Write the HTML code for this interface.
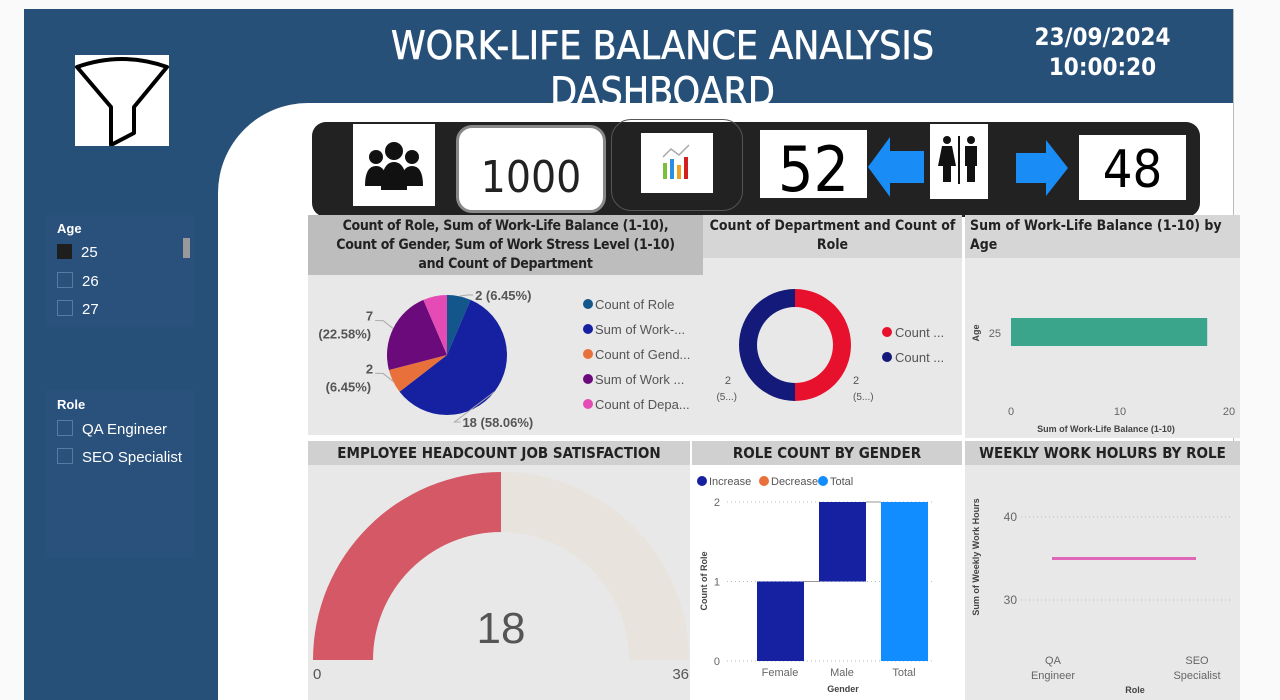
<!DOCTYPE html>
<html><head><meta charset="utf-8">
<style>
body{margin:0;width:1280px;height:700px;overflow:hidden;background:#fafafa;font-family:"Liberation Sans",sans-serif;position:relative}
.abs{position:absolute}
.t{font-family:"DejaVu Sans Condensed","Liberation Sans",sans-serif}
</style></head><body>
<div class="abs" style="left:24px;top:9px;width:1209px;height:691px;background:#275079"></div>
<div class="abs" style="left:218px;top:103px;width:1015px;height:597px;background:#fff;border-top-left-radius:90px"></div>
<div class="abs" style="left:1233px;top:9px;width:1px;height:691px;background:#bbb"></div>
<div class="abs t" style="left:340px;top:24px;width:645px;text-align:center;color:#fff;font-size:39px;font-weight:500;line-height:46px;height:79px;overflow:hidden;-webkit-text-stroke:0.6px #fff">WORK-LIFE BALANCE ANALYSIS DASHBOARD</div>
<div class="abs t" style="left:1010px;top:22px;width:185px;text-align:center;color:#fff;font-size:24px;font-weight:bold;line-height:30px">23/09/2024<br>10:00:20</div>
<div class="abs" style="left:75px;top:55px;width:94px;height:91px;background:#fff">
<svg width="94" height="91"><path d="M2 12 Q47 -4 92 12 L59 52 L59 78 L36 90 L36 52 Z" fill="none" stroke="#000" stroke-width="4" stroke-linejoin="round"/></svg></div>
<div class="abs" style="left:45px;top:215px;width:150px;height:112px;background:#2a517c"></div>
<div class="abs" style="left:57px;top:221px;color:#fff;font-size:13px;font-weight:bold">Age</div>
<div class="abs" style="left:183px;top:238px;width:7px;height:20px;background:#999"></div>
<div class="abs" style="left:57px;top:244px;color:#fff;font-size:15px"><span style="display:inline-block;width:15px;height:15px;background:#1e1e1e;vertical-align:-2px;margin-right:9px"></span>25</div>
<div class="abs" style="left:57px;top:272px;color:#fff;font-size:15px"><span style="display:inline-block;width:14px;height:14px;border:1px solid #5a7aa0;vertical-align:-2px;margin-right:9px"></span>26</div>
<div class="abs" style="left:57px;top:300px;color:#fff;font-size:15px"><span style="display:inline-block;width:14px;height:14px;border:1px solid #5a7aa0;vertical-align:-2px;margin-right:9px"></span>27</div>
<div class="abs" style="left:45px;top:390px;width:150px;height:168px;background:#2a517c"></div>
<div class="abs" style="left:57px;top:397px;color:#fff;font-size:13px;font-weight:bold">Role</div>
<div class="abs" style="left:57px;top:420px;color:#fff;font-size:15px"><span style="display:inline-block;width:14px;height:14px;border:1px solid #5a7aa0;vertical-align:-2px;margin-right:9px"></span>QA Engineer</div>
<div class="abs" style="left:57px;top:448px;color:#fff;font-size:15px"><span style="display:inline-block;width:14px;height:14px;border:1px solid #5a7aa0;vertical-align:-2px;margin-right:9px"></span>SEO Specialist</div>

<div class="abs" style="left:312px;top:122px;width:888px;height:95px;background:#222;border-radius:14px"></div>
<div class="abs" style="left:353px;top:124px;width:82px;height:82px;background:#fff">
<svg width="82" height="82"><g fill="#111"><circle cx="41" cy="27" r="9"/><circle cx="23" cy="33" r="7"/><circle cx="59" cy="33" r="7"/><path d="M12 62 Q12 42 23 42 Q34 42 34 62Z"/><path d="M48 62 Q48 42 59 42 Q70 42 70 62Z"/><path d="M28 66 Q28 38 41 38 Q54 38 54 66Z"/></g></svg></div>
<div class="abs t" style="left:456px;top:125px;width:144px;height:82px;background:#fff;border:3px solid #888;border-radius:16px;text-align:center;font-size:44px;line-height:100px;color:#222">1000</div>
<div class="abs" style="left:611px;top:119px;width:130px;height:90px;border:1px solid #555;border-radius:20px"></div>
<div class="abs" style="left:641px;top:133px;width:72px;height:60px;background:#fff">
<svg width="72" height="60"><rect x="22" y="30" width="4" height="16" fill="#7bbf3a"/><rect x="29" y="26" width="4" height="20" fill="#2a8fe0"/><rect x="36" y="32" width="4" height="14" fill="#f2a020"/><rect x="43" y="24" width="4" height="22" fill="#d02020"/><polyline points="22,24 30,16 38,22 48,12" fill="none" stroke="#aaa" stroke-width="1.5"/></svg></div>
<div class="abs t" style="left:760px;top:130px;width:107px;height:68px;background:#fff;text-align:center;font-size:62px;line-height:80px;color:#000">52</div>
<svg class="abs" style="left:868px;top:137px" width="56" height="60"><path d="M0 30 L22 0 L22 14 L56 14 L56 46 L22 46 L22 60Z" fill="#1a8cf5"/></svg>
<div class="abs" style="left:930px;top:124px;width:58px;height:75px;background:#fff">
<svg width="58" height="75"><g fill="#111"><circle cx="17" cy="16" r="4"/><path d="M12 22 H22 L26 42 H21 V58 H13 V42 H8Z"/><rect x="28" y="12" width="2" height="48"/><circle cx="41" cy="16" r="4"/><path d="M35 22 H47 V42 H45 V58 H37 V42 H35Z"/></g></svg></div>
<svg class="abs" style="left:1016px;top:140px" width="52" height="56"><path d="M52 28 L30 0 L30 13 L0 13 L0 43 L30 43 L30 56Z" fill="#1a8cf5"/></svg>
<div class="abs t" style="left:1079px;top:135px;width:107px;height:65px;background:#fff;text-align:center;font-size:52px;line-height:70px;color:#000">48</div>

<!-- pie panel -->
<div class="abs" style="left:308px;top:215px;width:395px;height:220px;background:#e8e8e8"></div>
<div class="abs t" style="left:308px;top:215px;width:395px;height:60px;background:#bdbdbd;text-align:center;font-size:14px;font-weight:bold;line-height:19px;color:#222;padding:2px 14px 0;letter-spacing:-0.3px;box-sizing:border-box">Count of Role, Sum of Work-Life Balance (1-10), Count of Gender, Sum of Work Stress Level (1-10) and Count of Department</div>
<svg class="abs" id="pie" style="left:308px;top:275px" width="395" height="160"></svg>
<!-- donut panel -->
<div class="abs" style="left:703px;top:215px;width:259px;height:220px;background:#e8e8e8"></div>
<div class="abs t" style="left:703px;top:215px;width:259px;height:43px;background:#d6d6d6;text-align:center;font-size:14px;font-weight:bold;line-height:19px;color:#222;padding-top:2px;box-sizing:border-box">Count of Department and Count of Role</div>
<svg class="abs" id="donut" style="left:703px;top:258px" width="259" height="177"></svg>
<!-- age bar panel -->
<div class="abs" style="left:965px;top:215px;width:275px;height:223px;background:#e8e8e8"></div>
<div class="abs t" style="left:965px;top:215px;width:275px;height:43px;background:#d6d6d6;font-size:14px;font-weight:bold;line-height:19px;color:#222;padding:2px 0 0 5px;box-sizing:border-box">Sum of Work-Life Balance (1-10) by Age</div>
<svg class="abs" id="agebar" style="left:965px;top:258px" width="275" height="180"></svg>
<!-- gauge -->
<div class="abs" style="left:308px;top:441px;width:382px;height:259px;background:#e8e8e8"></div>
<div class="abs t" style="left:308px;top:441px;width:382px;height:24px;background:#d0d0d0;text-align:center;font-size:15px;font-weight:bold;line-height:24px;color:#222">EMPLOYEE HEADCOUNT JOB SATISFACTION</div>
<svg class="abs" id="gauge" style="left:308px;top:465px" width="382" height="235"></svg>
<!-- waterfall -->
<div class="abs" style="left:692px;top:441px;width:270px;height:259px;background:#fff"></div>
<div class="abs t" style="left:692px;top:441px;width:270px;height:24px;background:#d0d0d0;text-align:center;font-size:15px;font-weight:bold;line-height:24px;color:#222">ROLE COUNT BY GENDER</div>
<svg class="abs" id="wf" style="left:692px;top:465px" width="270" height="235"></svg>
<!-- weekly -->
<div class="abs" style="left:965px;top:441px;width:275px;height:259px;background:#e8e8e8"></div>
<div class="abs t" style="left:965px;top:441px;width:275px;height:24px;background:#d0d0d0;text-align:center;font-size:15px;font-weight:bold;line-height:24px;color:#222">WEEKLY WORK HOLURS BY ROLE</div>
<svg class="abs" id="wk" style="left:965px;top:465px" width="275" height="235"></svg>

<script>
const NS="http://www.w3.org/2000/svg";
function mk(svg,tag,attrs,txt){const e=document.createElementNS(NS,tag);for(const k in attrs)e.setAttribute(k,attrs[k]);if(txt!==undefined)e.textContent=txt;svg.appendChild(e);return e;}

// Pie data
const pieLabels=["Count of Role","Sum of Work-...","Count of Gend...","Sum of Work ...","Count of Depa..."];
const pieValues=[2,18,2,7,2];
const pieColors=["#12568c","#1521a0","#e8703a","#6b0a7a","#e44bb4"];
const pie=document.getElementById('pie');
(function(){const cx=139,cy=80,r=60;const tot=pieValues.reduce((a,b)=>a+b,0);let a0=-Math.PI/2;
function lab(x,y,anchor,s){const t=mk(pie,'text',{x:x,y:y,'font-size':13,'font-weight':'bold',fill:'#555','text-anchor':anchor},s);}
pieValues.forEach((v,i)=>{const a1=a0+v/tot*2*Math.PI;const large=(a1-a0)>Math.PI?1:0;
const p=mk(pie,'path',{d:`M${cx} ${cy} L${cx+r*Math.cos(a0)} ${cy+r*Math.sin(a0)} A${r} ${r} 0 ${large} 1 ${cx+r*Math.cos(a1)} ${cy+r*Math.sin(a1)}Z`,fill:pieColors[i]});


const am=(a0+a1)/2;
const pct=(v/tot*100).toFixed(2);
let pctTxt=pct.length>5?pct.slice(0,5)+'...':pct+'%';
const isLast=i==pieValues.length-1;
if(!isLast){
 const ex=cx+r*Math.cos(am),ey=cy+r*Math.sin(am);
 const right=Math.cos(am)>=0;
 if(right){
  const lx=Math.sin(am)<0?ex+8:ex-40, ly=Math.sin(am)<0?cy-r+5:cy+r+12;
  const ln=mk(pie,'polyline',{points:`${ex},${ey} ${lx},${ly-5} ${lx+6},${ly-5}`,fill:'none',stroke:'#aaa'});
  lab(lx+8,ly,'start',v+' ('+pctTxt+')');
 } else {
  const lx=ex-10, ly=ey-8;
  const ln=mk(pie,'polyline',{points:`${ex},${ey} ${lx},${ly} ${lx-8},${ly}`,fill:'none',stroke:'#aaa'});
  lab(lx-10,ly,'end',v);lab(lx-12,ly+18,'end','('+pct+'%)');
 }
}
a0=a1;});
pieLabels.forEach((l,i)=>{const c=mk(pie,'circle',{cx:280,cy:29+i*25,r:5,fill:pieColors[i]});
const t=mk(pie,'text',{x:287,y:34+i*25,'font-size':13,fill:'#555'},l);});})();

// Donut
const donutLabels=["Count ...","Count ..."];
const donutValues=[2,2];
const donutColors=["#e8112d","#131a7a"];
const dn=document.getElementById('donut');
(function(){const cx=92,cy=87,R=56,r0=38;const tot=donutValues.reduce((a,b)=>a+b,0);let a0=-Math.PI/2;
donutValues.forEach((v,i)=>{const a1=a0+v/tot*2*Math.PI;const lg=(a1-a0)>Math.PI?1:0;const c=Math.cos,s=Math.sin;
const p=mk(dn,'path',{d:`M${cx+R*c(a0)} ${cy+R*s(a0)} A${R} ${R} 0 ${lg} 1 ${cx+R*c(a1)} ${cy+R*s(a1)} L${cx+r0*c(a1)} ${cy+r0*s(a1)} A${r0} ${r0} 0 ${lg} 0 ${cx+r0*c(a0)} ${cy+r0*s(a0)}Z`,fill:donutColors[i]});


a0=a1;
const x=i==0?150:28;
const t=mk(dn,'text',{x:x,y:126,'font-size':11,fill:'#555','text-anchor':i==0?'start':'end'},v);
const t2=mk(dn,'text',{x:x+(i==0?0:6),y:142,'font-size':10,fill:'#555','text-anchor':i==0?'start':'end'},'(5...)');});
donutLabels.forEach((l,i)=>{const c=mk(dn,'circle',{cx:184,cy:74+i*25,r:5,fill:donutColors[i]});
const t=mk(dn,'text',{x:192,y:79+i*25,'font-size':13,fill:'#555'},l);});})();

// Age bar
const ageCats=["25"];
const ageValues=[18];
const ageTicks=[0,10,20];
const ab=document.getElementById('agebar');
(function(){const x=v=>46+v/20*218;
ageTicks.forEach(t=>{const e=mk(ab,'text',{x:x(t),y:157,'font-size':11,fill:'#666','text-anchor':'middle'},t);});
ageCats.forEach((c,i)=>{const r=mk(ab,'rect',{x:x(0),y:60+i*40,width:x(ageValues[i])-x(0),height:28,fill:'#3aa58a'});
const t=mk(ab,'text',{x:36,y:79+i*40,'font-size':11,fill:'#666','text-anchor':'end'},c);});
const xt=mk(ab,'text',{x:141,y:174,'font-size':9,'font-weight':'bold',fill:'#444','text-anchor':'middle'},'Sum of Work-Life Balance (1-10)');
const yt=mk(ab,'text',{x:0,y:0,'font-size':9,'font-weight':'bold',fill:'#444','text-anchor':'middle',transform:'translate(14,75) rotate(-90)'},'Age');})();

// Gauge
const gaugeValue=[18];
const gaugeMax=[36];
const gg=document.getElementById('gauge');
(function(){const cx=193,cy=195,R=188,r0=128;const c=Math.cos,s=Math.sin;
function arc(a0,a1,col,n){const p=mk(gg,'path',{d:`M${cx+R*c(a0)} ${cy+R*s(a0)} A${R} ${R} 0 0 1 ${cx+R*c(a1)} ${cy+R*s(a1)} L${cx+r0*c(a1)} ${cy+r0*s(a1)} A${r0} ${r0} 0 0 0 ${cx+r0*c(a0)} ${cy+r0*s(a0)}Z`,fill:col});}
const am=Math.PI+gaugeValue[0]/gaugeMax[0]*Math.PI;
arc(Math.PI,am,'#d45866','gauge-value-arc');arc(am,2*Math.PI,'#e8e3dc','gauge-remaining-arc');
const t=mk(gg,'text',{x:cx,y:178,'font-size':44,fill:'#555','text-anchor':'middle'},gaugeValue[0]);
const a=mk(gg,'text',{x:5,y:214,'font-size':15,fill:'#555'},0);
const b=mk(gg,'text',{x:381,y:214,'font-size':15,fill:'#555','text-anchor':'end'},gaugeMax[0]);})();

// Waterfall
const wfCats=["Female","Male","Total"];
const wfValues=[1,1,2];
const wfTicks=[0,1,2];
const wf=document.getElementById('wf');
(function(){const y=v=>196-v*79.5;const bx=i=>65+i*62;
[["Increase","#1521a0"],["Decrease","#e8703a"],["Total","#118dff"]].forEach((l,i)=>{const xs=[10,72,131][i];const c=mk(wf,'circle',{cx:xs,cy:16,r:5,fill:l[1]});const t=mk(wf,'text',{x:xs+7,y:20,'font-size':11,fill:'#555'},l[0]);});
wfTicks.forEach(t=>{const g=mk(wf,'line',{x1:35,x2:240,y1:y(t),y2:y(t),stroke:'#bbb','stroke-dasharray':'1 3'});const e=mk(wf,'text',{x:28,y:y(t)+4,'font-size':11,fill:'#666','text-anchor':'end'},t);});
let cum=0;
wfCats.forEach((c,i)=>{let lo,hi,col;if(i==wfCats.length-1){lo=0;hi=wfValues[i];col='#118dff';}else{lo=cum;hi=cum+wfValues[i];cum=hi;col='#1521a0';}
const r=mk(wf,'rect',{x:bx(i),y:y(hi),width:47,height:y(lo)-y(hi),fill:col});
if(i<wfCats.length-1){const ln=mk(wf,'line',{x1:bx(i)+47,x2:bx(i+1),y1:y(hi),y2:y(hi),stroke:'#999'});}
const t=mk(wf,'text',{x:bx(i)+23,y:211,'font-size':11,fill:'#666','text-anchor':'middle'},c);});
const xt=mk(wf,'text',{x:151,y:227,'font-size':9,'font-weight':'bold',fill:'#444','text-anchor':'middle'},'Gender');
const yt=mk(wf,'text',{x:0,y:0,'font-size':9,'font-weight':'bold',fill:'#444','text-anchor':'middle',transform:'translate(15,116) rotate(-90)'},'Count of Role');})();

// Weekly
const wkCats=[["QA","Engineer"],["SEO","Specialist"]];
const wkValues=[35,35];
const wkTicks=[30,40];
const wk=document.getElementById('wk');
(function(){const y=v=>52+(40-v)*8.3;const x=i=>87+i*144;
wkTicks.forEach(t=>{const g=mk(wk,'line',{x1:56,x2:265,y1:y(t),y2:y(t),stroke:'#bbb','stroke-dasharray':'1 3'});const e=mk(wk,'text',{x:52,y:y(t)+4,'font-size':12,fill:'#666','text-anchor':'end'},t);});
const pl=mk(wk,'polyline',{points:wkValues.map((v,i)=>x(i)+','+y(v)).join(' '),fill:'none',stroke:'#e066b8','stroke-width':3});
wkCats.forEach((c,i)=>{c.forEach((w,j)=>{const t=mk(wk,'text',{x:x(i)+1,y:199+j*15,'font-size':11,fill:'#666','text-anchor':'middle'},w);});});
const xt=mk(wk,'text',{x:170,y:228,'font-size':9,'font-weight':'bold',fill:'#444','text-anchor':'middle'},'Role');
const yt=mk(wk,'text',{x:0,y:0,'font-size':9,'font-weight':'bold',fill:'#444','text-anchor':'middle',transform:'translate(14,92) rotate(-90)'},'Sum of Weekly Work Hours');})();
</script>
</body></html>
